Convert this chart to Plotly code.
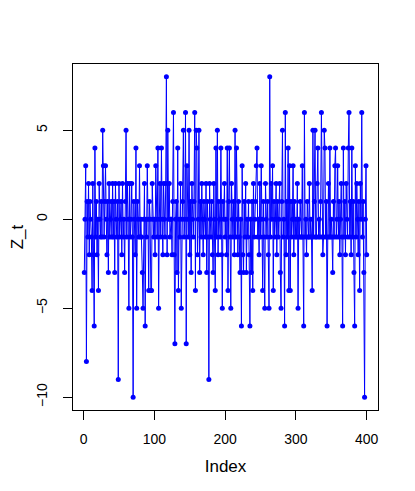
import plotly.graph_objects as go

# Series Z_t (index 1..400)
z_t = [
    -3, 0, 3, -8, 1, -1, 2, -2, 1, 0, -1, -4, 2, -2, -6, 4, -1, 1, -2, 0,
    -4, 2, 0, -1, 1, -1, 5, 3, -1, 1, 3, 0, -2, 1, -3, 2, -1, 0, 1, -1,
    2, -1, 1, -3, 2, 0, -1, 1, -9, 2, -1, 0, 1, -2, 2, -1, 0, -3, 1, 5,
    -1, 2, 0, -5, 2, -1, 0, 2, -1, -10, 1, 0, -2, 4, -5, 1, 0, -1, 3, -1,
    0, -1, -3, -5, 0, 2, -6, 0, -1, 3, 0, -4, 1, 0, -4, -4, 2, 0, -1, 0,
    -2, 3, 0, -1, 4, -5, 0, 2, -1, 4, 0, -2, 2, 0, -1, 2, 8, -2, 5, 0,
    2, -1, 0, 0, -2, 1, 6, -2, -7, 0, 1, -3, 4, -4, 0, -1, 2, -5, 0, 1,
    5, -1, 0, 6, -7, 3, 0, -1, 5, -2, 1, -3, 2, 0, -1, 1, 6, -4, 5, 4,
    -2, 0, 5, -3, 1, -1, 2, 0, -2, 1, 0, -1, 2, -3, 1, -1, -9, 2, 0, -1,
    1, -2, -3, 2, 0, -4, 4, -1, 5, -2, 1, 0, -1, 4, -2, -5, 1, 0, 2, -1,
    0, -2, 4, -4, 1, 4, -1, -5, 2, 0, -1, 1, -2, 5, -1, 4, 0, -2, 1, -1,
    -3, 0, -6, 3, -2, -3, 1, -1, 2, -3, 0, -1, 1, -2, -6, 0, -3, 1, -4, 2,
    -1, 0, 1, 3, 4, -1, 0, -2, 2, -1, 3, 0, -4, 1, -1, -5, 2, 0, -1, 1,
    -2, -5, 8, -1, 2, 0, 3, -4, 1, -1, 0, 2, -2, 1, -1, 0, 2, -3, -5, 1,
    5, -1, 0, -6, 6, -2, 1, -1, 4, -4, 3, -4, 1, -1, 0, 3, -2, 1, -1, 0,
    -1, 2, -5, 0, -1, 1, -1, -1, 3, -1, -6, 6, -1, 0, -2, 1, -1, -1, 2, -1,
    0, -1, -4, 5, -1, 1, 5, -1, -1, 2, 4, -1, 0, -1, 1, 6, -1, -2, -1, 5,
    4, -1, 1, -6, -1, 2, -1, 4, -1, 0, -1, -3, 1, -1, 3, 4, -1, 0, 3, -1,
    1, -2, 0, 2, -1, -6, 4, -1, 1, -2, 2, 0, -1, 4, 6, -1, 1, -2, 4, -1,
    1, -3, -6, 3, -1, 2, 0, -2, 1, -4, 2, 0, 6, -1, 1, -3, -10, 0, 3, -2,
]
index = list(range(1, len(z_t) + 1))

x_ticks = [0, 100, 200, 300, 400]
y_ticks = [-10, -5, 0, 5]

# R-style 4% padding around the data range
x_pad = (max(index) - min(index)) * 0.04
y_pad = (max(z_t) - min(z_t)) * 0.04

FONT = dict(family="Liberation Sans, Arial, sans-serif", size=14, color="black")

fig = go.Figure(
    go.Scatter(
        x=index,
        y=z_t,
        mode="lines+markers",
        line=dict(color="#0000FF", width=1),
        marker=dict(color="#0000FF", size=5),
        showlegend=False,
    )
)

# page body adds 8px offset, so margins are trimmed on left/top
fig.update_layout(
    width=415,
    height=491,
    paper_bgcolor="white",
    plot_bgcolor="white",
    font=FONT,
    margin=dict(l=65, r=45, t=56, b=89),
)
fig.update_xaxes(
    range=[min(index) - x_pad, max(index) + x_pad],
    tickvals=x_ticks,
    ticks="outside",
    ticklen=9,
    tickcolor="black",
    showline=True,
    mirror=True,
    linecolor="black",
    linewidth=1,
    showgrid=False,
    zeroline=False,
    automargin=False,
    ticklabelstandoff=7,
    title=dict(text="Index", standoff=14),
)
fig.update_yaxes(
    range=[min(z_t) - y_pad, max(z_t) + y_pad],
    tickvals=y_ticks,
    ticktext=[f"{v:g}".replace("-", "\u2212") for v in y_ticks],
    ticks="outside",
    ticklen=9,
    tickcolor="black",
    tickangle=-90,
    showline=True,
    mirror=True,
    linecolor="black",
    linewidth=1,
    showgrid=False,
    zeroline=False,
    automargin=False,
    ticklabelstandoff=10,
    title=dict(text="Z_t", standoff=28),
)

fig.write_html("out.html")
